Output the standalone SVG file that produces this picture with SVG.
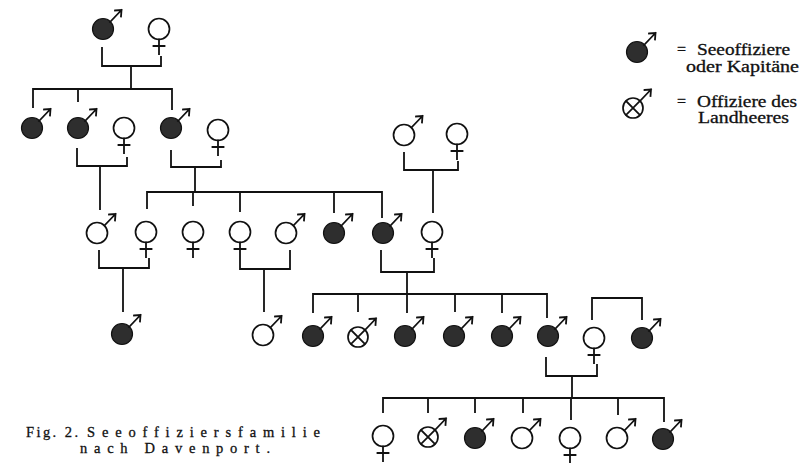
<svg xmlns="http://www.w3.org/2000/svg" xmlns:xlink="http://www.w3.org/1999/xlink" width="809" height="463" viewBox="0 0 809 463">
<style>
.o{fill:#fff;stroke:#111;stroke-width:1.7}
.d{fill:#2e2e2e;stroke:#111;stroke-width:1.2}
.ln{fill:none;stroke:#111;stroke-width:1.8;stroke-linecap:square}
.cn path{fill:none;stroke:#111;stroke-width:1.8}
.t{font-family:"Liberation Serif","DejaVu Serif",serif;fill:#111;stroke:#111;stroke-width:0.3}
</style>
<defs>
<g id="mf"><circle r="10.5" class="d"/><path class="ln" d="M7,-7 L18.5,-19 M12,-18.5 L18.5,-19 L18,-12.5"/></g>
<g id="mo"><circle r="10.5" class="o"/><path class="ln" d="M7.4,-7.4 L18.5,-19 M12,-18.5 L18.5,-19 L18,-12.5"/></g>
<g id="mx"><circle r="10" class="o"/><path class="ln" d="M-6.8,-6.8 L6.8,6.8 M-6.8,6.8 L6.8,-6.8 M7.2,-7.2 L18,-18.5 M11.5,-18 L18,-18.5 L17.5,-12"/></g>
<g id="f"><circle r="10.5" class="o"/><path class="ln" d="M0,10.5 V25 M-5.5,17 H5.5"/></g>
</defs>
<rect width="809" height="463" fill="#fff"/>
<g id="connectors" class="cn">
<path d="M102,47 V66 H161 V56 M131,66 V89 M33,108 V89 H172 V110 M78,89 V102"/>
<path d="M77,148 V166 H127 V157 M100,166 V210"/>
<path d="M171,150 V167 H221 V160 M195,167 V192 M147,209 V192 H382 V218 M193,192 V206 M240,192 V212 M334,192 V213"/>
<path d="M404,152 V170 H458 V161 M433,170 V213"/>
<path d="M99,250 V268 H149 V258 M123,268 V312"/>
<path d="M240,258 V269 H290 V250 M264,269 V312"/>
<path d="M381,250 V272 H434 V258 M407,272 V313 M313,313 V294 H547 V318 M358,294 V312 M455,294 V312 M502,294 V313"/>
<path d="M592,320 V298 H642 V320"/>
<path d="M546,357 V376 H597 V364 M572,376 V398 M383,413 V398 H664 V422 M428,398 V413 M475,398 V413 M523,398 V413 M571,398 V420 M618,398 V415"/>
</g>
<g id="g1m"><use href="#mf" x="103" y="29"/></g>
<g id="g1f"><use href="#f" x="159" y="29"/></g>
<g id="g2a"><use href="#mf" x="32" y="128"/></g>
<g id="g2b"><use href="#mf" x="78" y="128"/></g>
<g id="g2c"><use href="#f" x="124" y="128"/></g>
<g id="g2d"><use href="#mf" x="171" y="128"/></g>
<g id="g2e"><use href="#f" x="218" y="130"/></g>
<g id="g2f"><use href="#mo" x="404" y="135"/></g>
<g id="g2g"><use href="#f" x="457" y="134"/></g>
<g id="g3a"><use href="#mo" x="97" y="233"/></g>
<g id="g3b"><use href="#f" x="146" y="232"/></g>
<g id="g3c"><use href="#f" x="193" y="232"/></g>
<g id="g3d"><use href="#f" x="240" y="232"/></g>
<g id="g3e"><use href="#mo" x="286" y="233"/></g>
<g id="g3f"><use href="#mf" x="334" y="233"/></g>
<g id="g3g"><use href="#mf" x="383" y="233"/></g>
<g id="g3h"><use href="#f" x="432" y="232"/></g>
<g id="g4a"><use href="#mf" x="122" y="334"/></g>
<g id="g4b"><use href="#mo" x="263" y="335"/></g>
<g id="g4c"><use href="#mf" x="313" y="336"/></g>
<g id="g4d"><use href="#mx" x="358" y="337"/></g>
<g id="g4e"><use href="#mf" x="405" y="336"/></g>
<g id="g4f"><use href="#mf" x="454" y="336"/></g>
<g id="g4g"><use href="#mf" x="502" y="336"/></g>
<g id="g4h"><use href="#mf" x="548" y="336"/></g>
<g id="g4i"><use href="#f" x="594" y="338"/></g>
<g id="g4j"><use href="#mf" x="642" y="338"/></g>
<g id="g5a"><use href="#f" x="383" y="436"/></g>
<g id="g5b"><use href="#mx" x="428" y="437"/></g>
<g id="g5c"><use href="#mf" x="475" y="438"/></g>
<g id="g5d"><use href="#mo" x="522" y="438"/></g>
<g id="g5e"><use href="#f" x="570" y="438"/></g>
<g id="g5f"><use href="#mo" x="617" y="438"/></g>
<g id="g5g"><use href="#mf" x="663" y="439"/></g>
<g id="legend">
<use href="#mf" x="637" y="52"/>
<use href="#mx" x="633" y="108"/>
<text class="t" font-size="16"><tspan x="677" y="55">= </tspan><tspan x="697" y="55" textLength="93" lengthAdjust="spacingAndGlyphs">Seeoffiziere</tspan><tspan x="686" y="72" textLength="113" lengthAdjust="spacingAndGlyphs">oder Kapitäne</tspan></text>
<text class="t" font-size="16"><tspan x="677" y="107">= </tspan><tspan x="697" y="107" textLength="100" lengthAdjust="spacingAndGlyphs">Offiziere des</tspan><tspan x="698" y="123" textLength="91" lengthAdjust="spacingAndGlyphs">Landheeres</tspan></text>
</g>
<g id="caption">
<text class="t" font-size="14.5" stroke-width="0.45"><tspan x="26" y="437" textLength="52" lengthAdjust="spacing">Fig. 2.</tspan><tspan x="87" y="437" textLength="233" lengthAdjust="spacing">Seeoffiziersfamilie</tspan><tspan x="80" y="453" textLength="190" lengthAdjust="spacing">nach Davenport.</tspan></text>
</g>
</svg>
